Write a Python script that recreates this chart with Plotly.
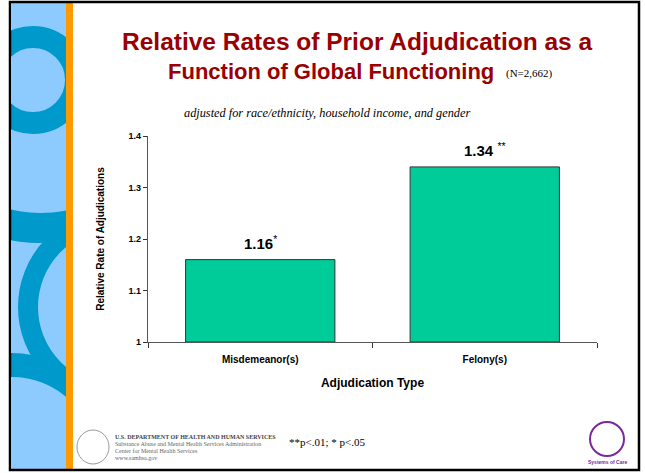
import plotly.graph_objects as go

# data
categories = ["Misdemeanor(s)", "Felony(s)"]
rates = [1.16, 1.34]
significance = ["*", "**"]
y_ticks = [1, 1.1, 1.2, 1.3, 1.4]
y_tick_labels = ["1", "1.1", "1.2", "1.3", "1.4"]

W, H = 645, 473
L, R, T, B = 148, 48, 136, 131
PW, PH = W - L - R, H - T - B

ARIAL = "Liberation Sans, Arial, sans-serif"
TIMES = "Liberation Serif, Times New Roman, serif"


def px(x):
    return (x - L) / PW


def py(y):
    return (H - B - y) / PH


def rect(x0, y0, x1, y1, fill, line_color=None, line_width=0):
    return dict(type="rect", xref="paper", yref="paper", layer="below",
                x0=px(x0), x1=px(x1), y0=py(y1), y1=py(y0),
                fillcolor=fill, line=dict(color=line_color or fill, width=line_width))


def ring(cx, cy, r, width, color):
    return dict(type="circle", xref="paper", yref="paper", layer="below",
                x0=px(cx - r), x1=px(cx + r), y0=py(cy + r), y1=py(cy - r),
                line=dict(color=color, width=width))


fig = go.Figure()
fig.add_trace(
    go.Bar(
        x=categories,
        y=[v - 1 for v in rates],
        base=1,
        width=0.665,
        marker=dict(color="#00CC99", line=dict(color="#333333", width=1)),
        hoverinfo="skip",
    )
)

# value labels above bars
for cat, val, sig in zip(categories, rates, significance):
    sep = "" if len(sig) == 1 else " "
    fig.add_annotation(
        x=cat, y=val, xref="x", yref="y", yanchor="bottom", yshift=6,
        text=f"<b>{val:.2f}</b>{sep}<sup>{sig}</sup>",
        showarrow=False, font=dict(family=ARIAL, size=15, color="black"),
    )

# decoration: left panel with rings, orange strip, slide frame
blue_light = "#8DCBFF"
blue_dark = "#0099CC"
shapes = [
    rect(12, 2, 66, 470, blue_light),
    ring(33, 80, 43, 22, blue_dark),
    ring(40, 80, 148, 30, blue_dark),
    ring(116, 307, 88, 20, blue_dark),
    ring(12, 460, 95, 24, blue_dark),
    rect(-10, -10, 11, 480, "white"),
    rect(66, -10, 300, 480, "white"),
    rect(-10, -10, 300, 2, "white"),
    rect(-10, 470, 300, 480, "white"),
    rect(66, 2, 73, 470, "#FF9900"),
    rect(10, 2, 639, 470, "rgba(0,0,0,0)", "black", 2.5),
    # footer logos (simplified)
    dict(type="circle", xref="paper", yref="paper", layer="below",
         x0=px(77), x1=px(109), y0=py(464), y1=py(430),
         line=dict(color="#999999", width=1)),
    dict(type="circle", xref="paper", yref="paper", layer="below",
         x0=px(590), x1=px(624), y0=py(456), y1=py(422),
         line=dict(color="#7A2A9A", width=2)),
]

title_color = "#990000"
annotations = [
    dict(x=px(357), y=py(41), text="<b>Relative Rates of Prior Adjudication as a</b>",
         font=dict(family=ARIAL, size=24.5, color=title_color), xanchor="center"),
    dict(x=px(496), y=py(72), text="<b>Function of Global Functioning</b>",
         font=dict(family=ARIAL, size=22, color=title_color), xanchor="right"),
    dict(x=px(504), y=py(74), text="(N=2,662)",
         font=dict(family=TIMES, size=11, color="black"), xanchor="left"),
    dict(x=px(327), y=py(113),
         text="<i>adjusted for race/ethnicity, household income, and gender</i>",
         font=dict(family=TIMES, size=12.3, color="black"), xanchor="center"),
    dict(x=px(327), y=py(442), text="**p&lt;.01; * p&lt;.05",
         font=dict(family=TIMES, size=11, color="black"), xanchor="center"),
    dict(x=px(113), y=py(437), text="<b>U.S. DEPARTMENT OF HEALTH AND HUMAN SERVICES</b>",
         font=dict(family=TIMES, size=6, color="#444444"), xanchor="left"),
    dict(x=px(113), y=py(444), text="Substance Abuse and Mental Health Services Administration",
         font=dict(family=TIMES, size=6, color="#666666"), xanchor="left"),
    dict(x=px(113), y=py(451), text="Center for Mental Health Services",
         font=dict(family=TIMES, size=6, color="#666666"), xanchor="left"),
    dict(x=px(113), y=py(458), text="www.samhsa.gov",
         font=dict(family=TIMES, size=6, color="#666666"), xanchor="left"),
    dict(x=px(607), y=py(462), text="<b>Systems of Care</b>",
         font=dict(family=ARIAL, size=5, color="#7A2A9A"), xanchor="center"),
]
for a in annotations:
    a.update(xref="paper", yref="paper", showarrow=False, yanchor="middle")
    fig.add_annotation(**a)

fig.update_layout(
    width=W,
    height=H,
    margin=dict(l=L, r=R, t=T, b=B, pad=0),
    paper_bgcolor="white",
    plot_bgcolor="rgba(0,0,0,0)",
    showlegend=False,
    shapes=shapes,
    bargap=0.335,
)
fig.update_xaxes(
    showline=True, linecolor="#555555", linewidth=1.2,
    ticks="outside", tickson="boundaries", ticklen=5, tickcolor="#333333",
    tickfont=dict(family=ARIAL, size=10, color="black"),
    ticklabelstandoff=8,
    tickprefix="<b>", ticksuffix="</b>",
    title=dict(text="<b>Adjudication Type</b>", standoff=14,
               font=dict(family=ARIAL, size=12, color="black")),
    showgrid=False,
)
fig.update_yaxes(
    range=[1, 1.4], tickvals=y_ticks, ticktext=[f"<b>{t}</b>" for t in y_tick_labels],
    showline=True, linecolor="#555555", linewidth=1.2,
    ticks="outside", ticklen=4, tickcolor="#333333",
    tickfont=dict(family=ARIAL, size=9, color="black"),
    title=dict(text="<b>Relative Rate of Adjudications</b>", standoff=22,
               font=dict(family=ARIAL, size=10, color="black")),
    showgrid=False, zeroline=False,
)

fig.write_html("out.html", config={"displayModeBar": False},
               post_script="document.body.style.margin='0';")
